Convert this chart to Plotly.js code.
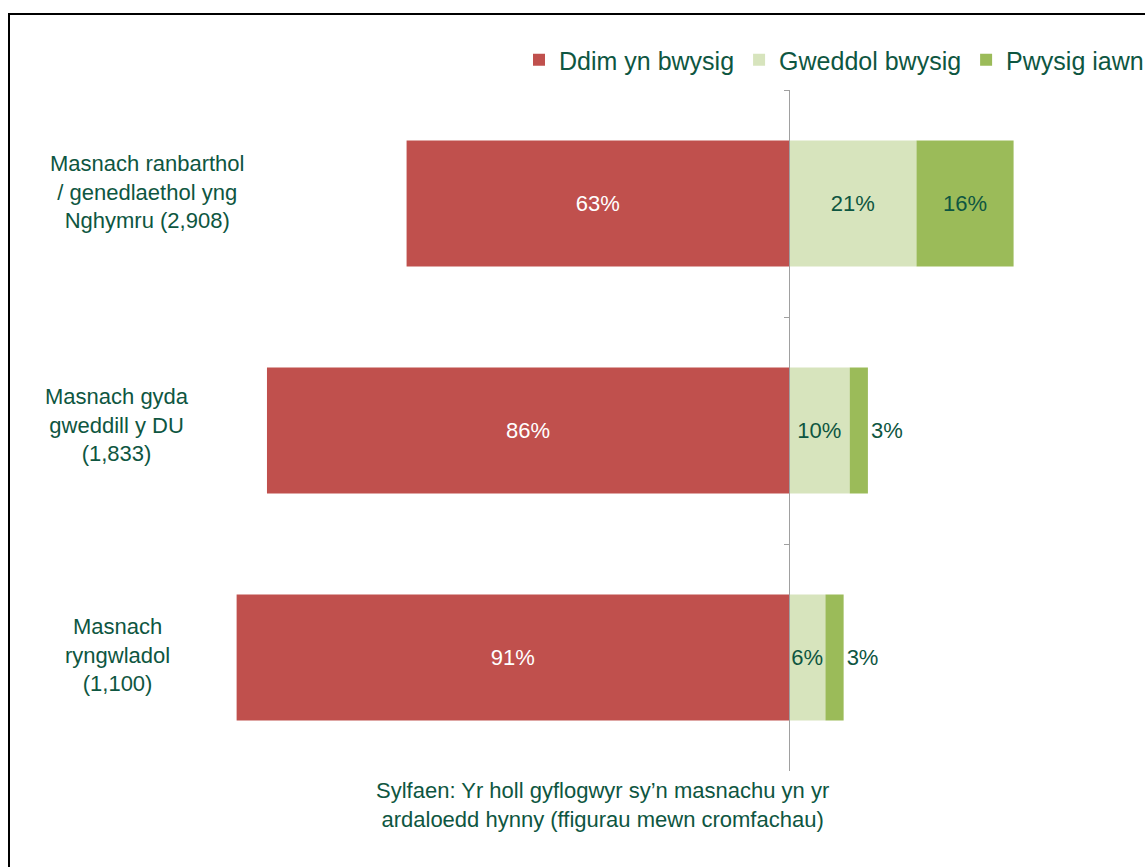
<!DOCTYPE html>
<html>
<head>
<meta charset="utf-8">
<script src="https://cdn.plot.ly/plotly-3.0.1.min.js"></script>
<style>
  html, body { margin: 0; padding: 0; background: #fff; overflow: hidden; }
  #chart { width: 1145px; height: 867px; position: absolute; left: 0; top: 0; }
  #frame { position: absolute; left: 8px; top: 13px; width: 1300px; height: 1000px;
           border: 2px solid #000; pointer-events: none; box-sizing: border-box; }
</style>
</head>
<body>
<div id="chart"></div>
<div id="frame"></div>
<script>
// ---- data ----
const categories = [
  'Masnach ranbarthol<br>/ genedlaethol yng<br>Nghymru (2,908)',
  'Masnach gyda<br>gweddill y DU<br>(1,833)',
  'Masnach<br>ryngwladol<br>(1,100)'
];
const seriesNames = ['Ddim yn bwysig', 'Gweddol bwysig', 'Pwysig iawn'];
const ddim = [63, 86, 91];
const gweddol = [21, 10, 6];
const pwysig = [16, 3, 3];
const footnote = 'Sylfaen: Yr holl gyflogwyr sy’n masnachu yn yr<br>ardaloedd hynny (ffigurau mewn cromfachau)';

// ---- style ----
const FONT = '"Liberation Sans", Arial, sans-serif';
const TXT = '#0E5641';
const COLORS = ['#C0504D', '#D7E4BD', '#9BBB59'];
const pct = v => v + '%';

const W = 1145, H = 867;
const L = 152, R = 4, T = 90, B = 96;
const xRange = [-104.94, 57.99];
const plotW = W - L - R, plotH = H - T - B;
const px2paperX = p => (p - L) / plotW;
const px2paperY = p => (H - B - p) / plotH;

const traces = [
  {
    type: 'bar', orientation: 'h', name: seriesNames[0],
    y: categories, x: ddim.map(v => -v),
    text: ddim.map(pct), textposition: 'inside', insidetextanchor: 'middle',
    textangle: 0, constraintext: 'none',
    insidetextfont: {family: FONT, size: 22, color: '#ffffff'},
    marker: {color: COLORS[0]}, width: 0.555, hoverinfo: 'skip'
  },
  {
    type: 'bar', orientation: 'h', name: seriesNames[1],
    y: categories, x: gweddol,
    text: gweddol.map(pct), textposition: 'inside', insidetextanchor: 'middle',
    textangle: 0, constraintext: 'none',
    insidetextfont: {family: FONT, size: 22, color: TXT},
    marker: {color: COLORS[1]}, width: 0.555, hoverinfo: 'skip'
  },
  {
    type: 'bar', orientation: 'h', name: seriesNames[2],
    y: categories, x: pwysig,
    text: pwysig.map(pct), textposition: ['inside', 'outside', 'outside'],
    insidetextanchor: 'middle', textangle: 0, constraintext: 'none', cliponaxis: false,
    insidetextfont: {family: FONT, size: 22, color: TXT},
    outsidetextfont: {family: FONT, size: 22, color: TXT},
    marker: {color: COLORS[2]}, width: 0.555, hoverinfo: 'skip'
  }
];

const labelX = [147, 117, 117];
const labelY = [192, 425, 655];
const annotations = categories.map((c, i) => ({
  text: c, xref: 'paper', yref: 'paper',
  x: px2paperX(labelX[i]), y: px2paperY(labelY[i]),
  xanchor: 'center', yanchor: 'middle', align: 'center', showarrow: false,
  font: {family: FONT, size: 22, color: TXT}
}));
annotations.push({
  text: footnote, xref: 'paper', yref: 'paper',
  x: px2paperX(602), y: px2paperY(805),
  xanchor: 'center', yanchor: 'middle', align: 'center', showarrow: false,
  font: {family: FONT, size: 22, color: TXT}
});

const layout = {
  width: W, height: H,
  margin: {l: L, r: R, t: T, b: B, autoexpand: false},
  paper_bgcolor: '#ffffff', plot_bgcolor: '#ffffff',
  barmode: 'relative',
  font: {family: FONT, color: TXT},
  showlegend: true,
  legend: {
    orientation: 'h', x: 1.0081, xanchor: 'right', y: px2paperY(60), yanchor: 'middle',
    font: {family: FONT, size: 25, color: TXT}, traceorder: 'normal',
    bgcolor: 'rgba(0,0,0,0)'
  },
  xaxis: {range: xRange, visible: false, showgrid: false, zeroline: false, fixedrange: true},
  yaxis: {
    type: 'category', autorange: 'reversed', anchor: 'free',
    position: -xRange[0] / (xRange[1] - xRange[0]),
    showline: true, linecolor: '#a0a0a0', linewidth: 1,
    ticks: 'outside', tickson: 'boundaries', ticklen: 5, tickcolor: '#a0a0a0', tickwidth: 1,
    showticklabels: false, showgrid: false, zeroline: false, fixedrange: true
  },
  annotations: annotations
};

Plotly.newPlot('chart', traces, layout, {displayModeBar: false, staticPlot: true});
</script>
</body>
</html>
